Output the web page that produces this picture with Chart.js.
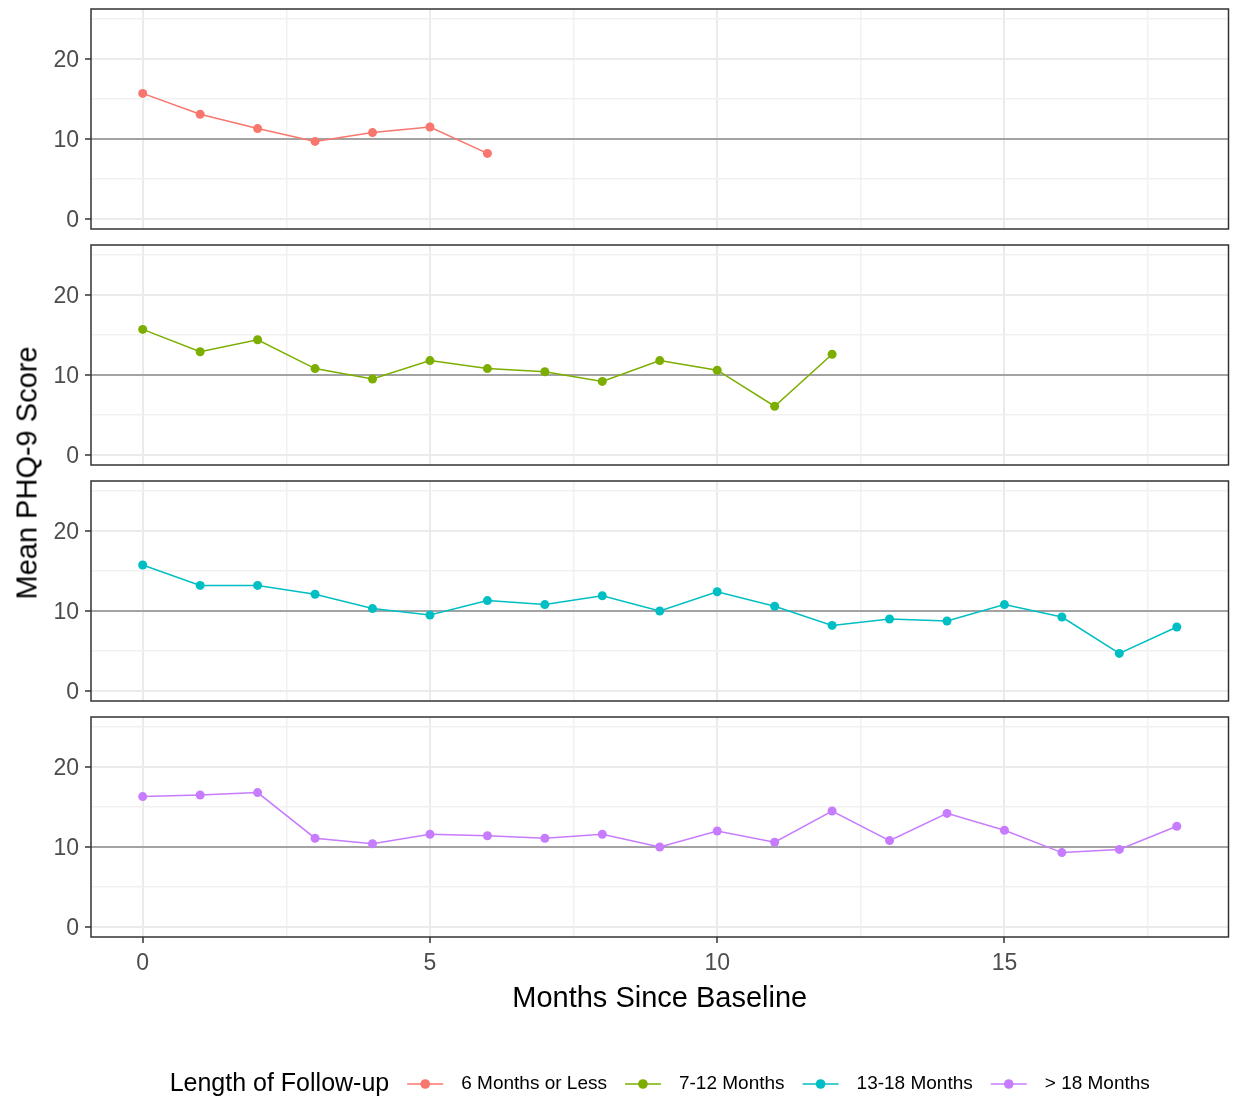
<!DOCTYPE html>
<html>
<head>
<meta charset="utf-8">
<title>Mean PHQ-9 Score by Length of Follow-up</title>
<script src="https://cdn.jsdelivr.net/npm/chart.js@4.4.1/dist/chart.umd.min.js"></script>
<style>
  html, body { margin: 0; padding: 0; background: #fff; }
  #wrap { position: relative; width: 1233px; height: 1097px; overflow: hidden; background: #fff; }
  #wrap canvas { position: absolute; left: 0; }
  #ytitle {
    position: absolute; left: 27px; top: 473px;
    transform: translate(-50%, -50%) rotate(-90deg);
    font: 29px "Liberation Sans", Arial, sans-serif; color: #000; white-space: nowrap;
  }
</style>
</head>
<body>
<div id="wrap">
  <canvas id="panel1" width="1233" height="236" style="top:0px"></canvas>
  <canvas id="panel2" width="1233" height="236" style="top:236px"></canvas>
  <canvas id="panel3" width="1233" height="236" style="top:472px"></canvas>
  <canvas id="panel4" width="1233" height="389" style="top:708px"></canvas>
  <div id="ytitle">Mean PHQ-9 Score</div>
</div>
<script>
// Months since baseline (x values shared by all groups)
const months = [0, 1, 2, 3, 4, 5, 6, 7, 8, 9, 10, 11, 12, 13, 14, 15, 16, 17, 18];

// Mean PHQ-9 score per month, one array per follow-up group
const sixOrLess = [15.7, 13.1, 11.3, 9.7, 10.8, 11.5, 8.2];
const sevenToTwelve = [15.7, 12.9, 14.4, 10.8, 9.5, 11.8, 10.8, 10.4, 9.2, 11.8, 10.6, 6.1, 12.6];
const thirteenToEighteen = [15.75, 13.2, 13.2, 12.1, 10.3, 9.5, 11.3, 10.8, 11.9, 10.0, 12.4, 10.6, 8.2, 9.0, 8.75, 10.8, 9.25, 4.7, 8.0];
const overEighteen = [16.3, 16.5, 16.8, 11.1, 10.4, 11.6, 11.4, 11.1, 11.6, 10.0, 12.0, 10.6, 14.5, 10.8, 14.2, 12.1, 9.3, 9.7, 12.6];

const groupLabels = ['6 Months or Less', '7-12 Months', '13-18 Months', '> 18 Months'];
const groupColors = ['#F8766D', '#7CAE00', '#00BFC4', '#C77CFF'];
const legendTitle = 'Length of Follow-up';
const xTitle = 'Months Since Baseline';

// Axis breaks
const xTickLabels = [0, 5, 10, 15];
const xMinorBreaks = [2.5, 7.5, 12.5, 17.5];
const yTickLabels = [0, 10, 20];
const yMinorBreaks = [5, 15, 25];
const referenceLine = 10; // horizontal reference score

const FONT = '"Liberation Sans", Arial, sans-serif';

function gridColor(isMajor) {
  return isMajor ? '#EBEBEB' : '#F1F1F1';
}

// Full border around each facet panel
const panelBorder = {
  id: 'panelBorder',
  afterDraw(chart) {
    const { ctx, chartArea: a } = chart;
    ctx.save();
    ctx.strokeStyle = '#333333';
    ctx.lineWidth = 1.5;
    ctx.strokeRect(a.left, a.top, a.right - a.left, a.bottom - a.top);
    ctx.restore();
  }
};

// Horizontal legend row: title followed by line+point keys
const legendRow = {
  id: 'legendRow',
  afterDraw(chart) {
    const { ctx, chartArea: a } = chart;
    const y = 376;
    const gap = 18, sym = 36;
    ctx.save();
    ctx.textBaseline = 'middle';
    ctx.textAlign = 'left';
    ctx.font = '25px ' + FONT;
    const tw = ctx.measureText(legendTitle).width;
    ctx.font = '19px ' + FONT;
    const widths = groupLabels.map(l => ctx.measureText(l).width);
    const total = tw + gap + widths.reduce((s, w) => s + w, 0) +
      groupLabels.length * (sym + gap) + (groupLabels.length - 1) * gap;
    let x = (a.left + a.right) / 2 - total / 2;
    ctx.fillStyle = '#000';
    ctx.font = '25px ' + FONT;
    ctx.fillText(legendTitle, x, y);
    x += tw + gap;
    ctx.font = '19px ' + FONT;
    groupLabels.forEach((label, i) => {
      ctx.strokeStyle = groupColors[i];
      ctx.lineWidth = 1.5;
      ctx.beginPath();
      ctx.moveTo(x, y);
      ctx.lineTo(x + sym, y);
      ctx.stroke();
      ctx.fillStyle = groupColors[i];
      ctx.beginPath();
      ctx.arc(x + sym / 2, y, 4.8, 0, Math.PI * 2);
      ctx.fill();
      x += sym + gap;
      ctx.fillStyle = '#000';
      ctx.fillText(label, x, y);
      x += widths[i] + gap;
    });
    ctx.restore();
  }
};

function makePanel(id, values, color, label, isBottom) {
  const points = values.map((v, i) => ({ x: months[i], y: v }));
  const plugins = [panelBorder];
  if (isBottom) plugins.push(legendRow);
  return new Chart(document.getElementById(id), {
    type: 'line',
    data: {
      datasets: [{
        label: label,
        data: points,
        borderColor: color,
        backgroundColor: color,
        borderWidth: 1.5,
        pointRadius: 4.5,
        pointHoverRadius: 4.5,
        pointBorderWidth: 0,
        tension: 0
      }]
    },
    options: {
      responsive: false,
      animation: false,
      events: [],
      layout: { padding: { top: 9, right: 4.5, left: 0, bottom: isBottom ? 76.6 : 7 } },
      plugins: { legend: { display: false }, tooltip: { enabled: false } },
      scales: {
        x: {
          type: 'linear',
          min: -0.9,
          max: 18.9,
          afterBuildTicks: s => {
            s.ticks = xTickLabels.concat(xMinorBreaks).sort((p, q) => p - q).map(v => ({ value: v }));
          },
          afterFit: s => {
            s.height = isBottom ? 83.4 : 0;
            s.paddingLeft = 0;
            s.paddingRight = 0;
          },
          border: { display: false },
          grid: {
            color: c => gridColor(xTickLabels.includes(c.tick.value)),
            lineWidth: c => xTickLabels.includes(c.tick.value) ? 2 : 1.5,
            drawTicks: isBottom,
            tickLength: 6,
            tickWidth: 1.5,
            tickColor: c => xTickLabels.includes(c.tick.value) ? '#333333' : 'rgba(0,0,0,0)'
          },
          ticks: {
            display: isBottom,
            autoSkip: false,
            maxRotation: 0,
            padding: 7,
            color: '#4D4D4D',
            font: { family: FONT, size: 23 },
            callback: v => xTickLabels.includes(v) ? String(v) : ''
          },
          title: {
            display: isBottom,
            text: xTitle,
            color: '#000',
            font: { family: FONT, size: 29 },
            padding: { top: 4, bottom: 4 }
          }
        },
        y: {
          min: -1.25,
          max: 26.25,
          afterBuildTicks: s => {
            s.ticks = yTickLabels.concat(yMinorBreaks).sort((p, q) => p - q).map(v => ({ value: v }));
          },
          afterFit: s => {
            s.width = 91;
            s.paddingTop = 0;
            s.paddingBottom = 0;
          },
          border: { display: false },
          grid: {
            color: c => c.tick.value === referenceLine ? '#A3A3A3' : gridColor(yTickLabels.includes(c.tick.value)),
            lineWidth: c => yTickLabels.includes(c.tick.value) ? 2 : 1.5,
            tickLength: 6,
            tickWidth: 1.5,
            tickColor: c => yTickLabels.includes(c.tick.value) ? '#333333' : 'rgba(0,0,0,0)'
          },
          ticks: {
            autoSkip: false,
            padding: 6,
            labelOffset: 2,
            color: '#4D4D4D',
            font: { family: FONT, size: 23 },
            callback: v => yTickLabels.includes(v) ? String(v) : ''
          }
        }
      }
    },
    plugins: plugins
  });
}

makePanel('panel1', sixOrLess, groupColors[0], groupLabels[0], false);
makePanel('panel2', sevenToTwelve, groupColors[1], groupLabels[1], false);
makePanel('panel3', thirteenToEighteen, groupColors[2], groupLabels[2], false);
makePanel('panel4', overEighteen, groupColors[3], groupLabels[3], true);
</script>
</body>
</html>
